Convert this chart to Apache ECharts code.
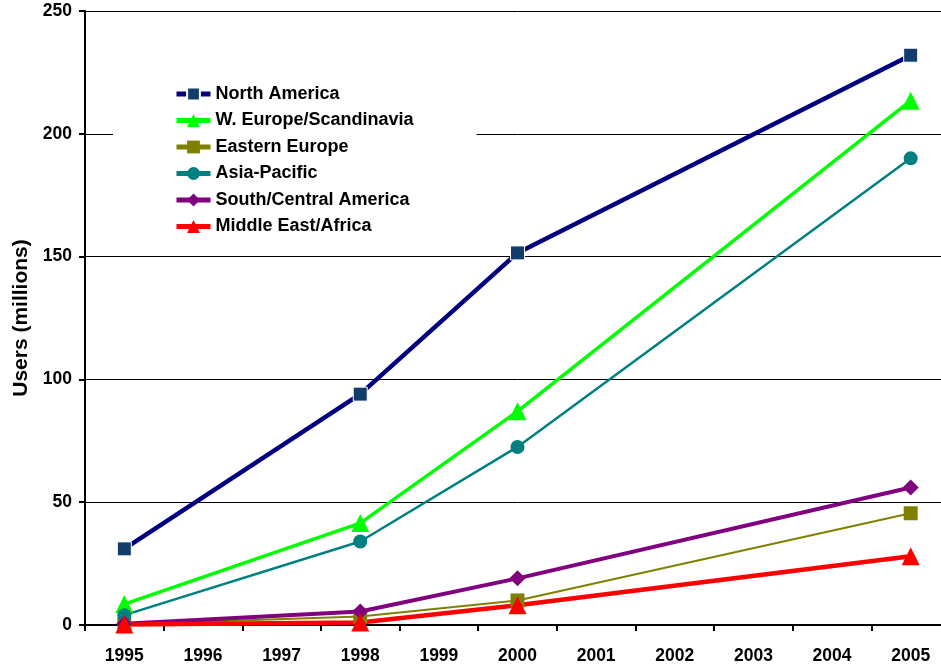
<!DOCTYPE html>
<html>
<head>
<meta charset="utf-8">
<script src="https://cdn.jsdelivr.net/npm/echarts@6/dist/echarts.min.js"></script>
<style>html,body{margin:0;padding:0;background:#fff;overflow:hidden}#c{width:950px;height:666px}</style>
</head>
<body>
<div id="c"></div>
<script>
var years = ['1995','1996','1997','1998','1999','2000','2001','2002','2003','2004','2005'];
var dataYears = ['1995','1998','2000','2005'];
var northAmerica = [31, 94, 151.5, 232];
var wEurope = [8.5, 41.5, 87, 213.5];
var easternEurope = [0.3, 3.5, 10, 45.5];
var asiaPacific = [4, 34, 72.5, 190];
var southCentral = [0.5, 5.5, 19, 56];
var middleEast = [0.2, 1, 8, 28];
var yTicks = [0, 50, 100, 150, 200, 250];
var seriesNames = ['North America','W. Europe/Scandinavia','Eastern Europe','Asia-Pacific','South/Central America','Middle East/Africa'];

function pairs(vals){ return dataYears.map(function(y,i){ return [y, vals[i]]; }); }

var font = 'Liberation Sans, Arial, sans-serif';
function mk(name, vals, color, width, symbol, size, extra){
  return {
    name: name, type: 'line', data: pairs(vals),
    symbol: symbol, symbolSize: size,
    lineStyle: {color: color, width: width},
    itemStyle: Object.assign({color: color}, extra || {}),
    emphasis: {disabled: true}, animation: false
  };
}
var chart = echarts.init(document.getElementById('c'), null, {renderer: 'canvas'});
chart.setOption({
  backgroundColor: '#fff',
  animation: false,
  grid: {left: 85, right: 0, top: 11, bottom: 41, containLabel: false, outerBoundsMode: 'none'},
  legend: {
    orient: 'vertical', left: 113, top: 71,
    padding: [14, 63, 10, 61],
    backgroundColor: '#fff',
    itemWidth: 34, itemHeight: 16, itemGap: 8.5,
    textStyle: {fontFamily: font, fontWeight: 'bold', fontSize: 18, lineHeight: 18, color: '#000'},
    data: seriesNames.map(function(n){ return {name: n, lineStyle: {width: 5}}; })
  },
  xAxis: {
    type: 'category', data: years, boundaryGap: true,
    axisLine: {lineStyle: {color: '#000', width: 2}},
    axisTick: {show: true, length: 6, lineStyle: {color: '#000', width: 2}},
    axisLabel: {fontFamily: font, fontWeight: 'bold', fontSize: 17.5, color: '#000', margin: 22},
    splitLine: {show: false}
  },
  yAxis: {
    type: 'value', min: 0, max: 250, interval: 50,
    name: 'Users (millions)', nameLocation: 'middle', nameGap: 51,
    nameTextStyle: {fontFamily: font, fontWeight: 'bold', fontSize: 21, color: '#000'},
    axisLine: {show: true, lineStyle: {color: '#000', width: 2}},
    axisTick: {show: true, length: 6, lineStyle: {color: '#000', width: 2}},
    axisLabel: {fontFamily: font, fontWeight: 'bold', fontSize: 17.5, color: '#000', margin: 13,
      formatter: function(v){ return yTicks.indexOf(v) >= 0 ? String(v) : ''; }},
    splitLine: {show: true, lineStyle: {color: '#000', width: 1}}
  },
  series: [
    mk(seriesNames[0], northAmerica, '#000080', 4.5, 'rect', 14, {color: '#123d6b', borderColor: '#ffffff', borderWidth: 1}),
    mk(seriesNames[1], wEurope, '#00ff00', 3.5, 'triangle', 18),
    mk(seriesNames[2], easternEurope, '#808000', 2, 'rect', 14),
    mk(seriesNames[3], asiaPacific, '#008080', 2.5, 'circle', 14),
    mk(seriesNames[4], southCentral, '#800080', 4, 'diamond', 16),
    mk(seriesNames[5], middleEast, '#ff0000', 4.5, 'triangle', 18)
  ]
});
</script>
</body>
</html>
